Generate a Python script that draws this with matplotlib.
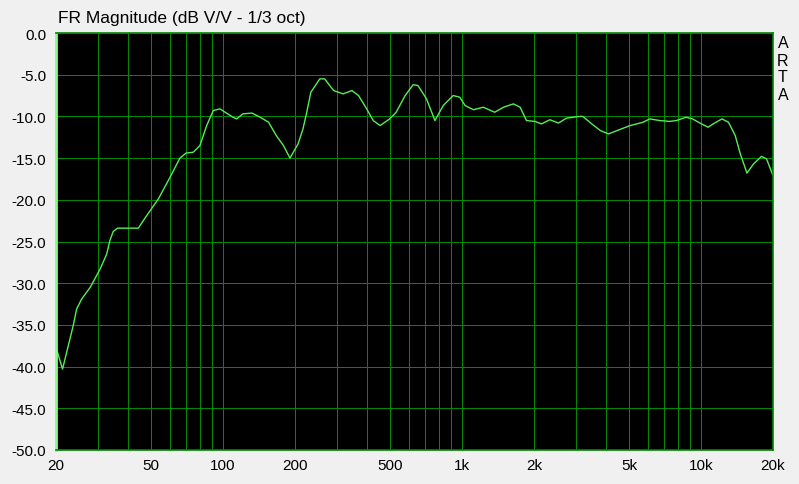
import matplotlib.pyplot as plt
from matplotlib.ticker import FixedLocator, NullFormatter

plt.rcParams["font.family"] = ["Liberation Sans", "DejaVu Sans"]

# FR magnitude, 1/3 octave smoothed
freq_hz = [
    20.1, 21.3, 23.6, 24.4, 25.6, 27.8, 30.6, 32.6, 33.6, 34.7, 36.2, 44.2,
    47.9, 53.6, 60, 66, 70, 75, 80, 85.4, 91, 97, 102, 110, 114, 121, 132,
    143, 155, 167, 179, 190.6, 206, 216, 224, 233, 254, 266, 290, 318, 346,
    369, 399, 425, 454, 498, 530, 578, 624, 654, 710, 770, 834, 918, 978,
    1030, 1117, 1226, 1370, 1490, 1640, 1750, 1860, 2018, 2150, 2330, 2530,
    2740, 3116, 3200, 3490, 3790, 4100, 4450, 5050, 5720, 6100, 6720, 7390,
    7880, 8650, 9210, 10040, 10700, 11240, 12230, 13020, 13900, 14600,
    15560, 16580, 17900, 18800, 20000,
]
mag_db = [
    -37.9, -40.3, -35.1, -33.1, -31.9, -30.5, -28.3, -26.5, -24.9, -23.8,
    -23.4, -23.4, -21.9, -19.9, -17.3, -15.0, -14.4, -14.3, -13.5, -11.1,
    -9.3, -9.1, -9.5, -10.1, -10.3, -9.7, -9.6, -10.1, -10.7, -12.3, -13.5,
    -15.0, -13.3, -11.5, -9.5, -7.1, -5.5, -5.5, -6.9, -7.3, -6.9, -7.5,
    -9.1, -10.5, -11.1, -10.3, -9.5, -7.5, -6.2, -6.3, -7.9, -10.5, -8.7,
    -7.5, -7.7, -8.7, -9.2, -8.9, -9.5, -8.9, -8.5, -8.9, -10.5, -10.6,
    -10.9, -10.4, -10.8, -10.2, -10.0, -10.0, -10.9, -11.7, -12.1, -11.7,
    -11.1, -10.7, -10.3, -10.5, -10.6, -10.5, -10.1, -10.3, -10.9, -11.3,
    -10.9, -10.3, -10.7, -12.3, -14.5, -16.8, -15.7, -14.8, -15.1, -17.1,
]

x_ticks = [20, 50, 100, 200, 500, 1000, 2000, 5000, 10000, 20000]
x_tick_labels = ["20", "50", "100", "200", "500", "1k", "2k", "5k", "10k", "20k"]
x_grid = [f * d for d in (10, 100, 1000) for f in range(2, 11)] + [20000]
y_ticks = [-50, -45, -40, -35, -30, -25, -20, -15, -10, -5, 0]

bg = "#f0f0f0"
grid_green = "#008800"

fig = plt.figure(figsize=(7.99, 4.85), dpi=100, facecolor=bg)
ax = fig.add_axes([56 / 799, 1 - 451 / 485, 717 / 799, 417 / 485])
ax.set_facecolor("black")

ax.plot(freq_hz, mag_db, color="#55ee55", linewidth=1.0)

ax.set_xscale("log")
ax.set_xlim(20, 20000)
ax.set_ylim(-50, 0)
ax.xaxis.set_major_locator(FixedLocator(x_ticks))
ax.set_xticklabels(x_tick_labels)
ax.xaxis.set_minor_locator(FixedLocator(x_grid))
ax.xaxis.set_minor_formatter(NullFormatter())
ax.set_yticks(y_ticks)
ax.set_yticklabels([f"{v:.1f}" for v in y_ticks])

# crisp 1px grid like the ARTA screen
for f in x_grid:
    ax.axvline(f, color=grid_green, linewidth=0.72, antialiased=False, zorder=0)
for v in y_ticks:
    ax.axhline(v, color=grid_green, linewidth=0.72, antialiased=False, zorder=0)

ax.tick_params(which="both", length=0, labelsize=11, colors="black")
ax.tick_params(axis="x", pad=6)
ax.tick_params(axis="y", pad=7)

for side in ("top", "bottom", "right"):
    ax.spines[side].set_color(grid_green)
    ax.spines[side].set_linewidth(1.2)
ax.spines["left"].set_color("#80ff80")
ax.spines["left"].set_linewidth(2)

fig.text(58 / 799, 1 - 19 / 485, "FR Magnitude (dB V/V - 1/3 oct)",
         fontsize=12.5, va="center", ha="left")
for i, ch in enumerate("ARTA"):
    fig.text(783 / 799, 1 - (44 + i * 17) / 485, ch, fontsize=11.5,
             va="center", ha="center")

fig.savefig("out.png", dpi=100, facecolor=bg)
